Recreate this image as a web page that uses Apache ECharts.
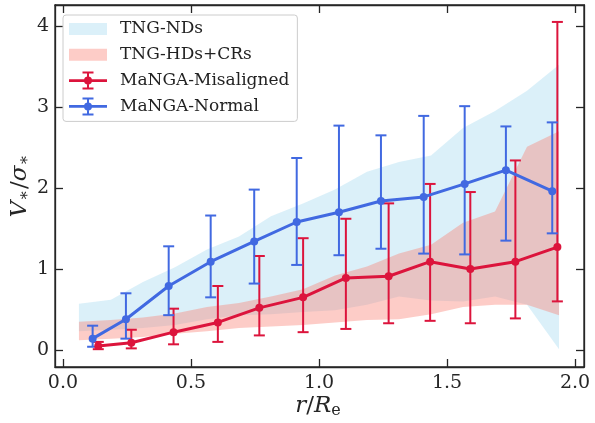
<!DOCTYPE html>
<html>
<head>
<meta charset="utf-8">
<script src="https://cdn.jsdelivr.net/npm/echarts@6/dist/echarts.min.js"></script>
<style>
html,body{margin:0;padding:0;background:#fff;}
#main{width:595px;height:423px;}
</style>
</head>
<body>
<div id="main"></div>
<script>
// ---- data ----
const xTicks = [0, 0.5, 1.0, 1.5, 2.0];
const yTicks = [0, 1, 2, 3, 4];

// TNG bands (x grid of the bands)
const bandX = [0.0625, 0.1875, 0.3125, 0.4375, 0.5625, 0.6875, 0.8125, 0.9375, 1.0625, 1.1875, 1.3125, 1.4375, 1.5625, 1.6875, 1.8125, 1.9375];
const ndsUpper = [0.57, 0.62, 0.84, 1.02, 1.24, 1.40, 1.65, 1.81, 1.98, 2.20, 2.32, 2.40, 2.74, 2.95, 3.20, 3.52];
const ndsLower = [0.23, 0.25, 0.27, 0.31, 0.38, 0.43, 0.44, 0.47, 0.49, 0.56, 0.66, 0.61, 0.60, 0.66, 0.56, 0.01];
const hdsUpper = [0.35, 0.37, 0.40, 0.45, 0.53, 0.58, 0.66, 0.75, 0.92, 1.03, 1.19, 1.30, 1.57, 1.71, 2.51, 2.70];
const hdsLower = [0.12, 0.14, 0.16, 0.20, 0.23, 0.27, 0.29, 0.31, 0.34, 0.37, 0.38, 0.44, 0.53, 0.56, 0.56, 0.43];

// MaNGA-Misaligned
const misX  = [0.138, 0.267, 0.432, 0.605, 0.767, 0.938, 1.105, 1.272, 1.434, 1.591, 1.767, 1.931];
const misY  = [0.05, 0.09, 0.22, 0.34, 0.52, 0.65, 0.89, 0.91, 1.09, 1.00, 1.09, 1.27];
const misLo = [0.01, 0.02, 0.07, 0.10, 0.18, 0.22, 0.26, 0.33, 0.36, 0.33, 0.39, 0.60];
const misHi = [0.10, 0.25, 0.51, 0.79, 1.16, 1.38, 1.62, 1.81, 2.05, 1.95, 2.34, 4.05];

// MaNGA-Normal
const norX  = [0.116, 0.246, 0.413, 0.577, 0.747, 0.913, 1.078, 1.242, 1.409, 1.569, 1.730, 1.911];
const norY  = [0.14, 0.38, 0.79, 1.09, 1.34, 1.58, 1.70, 1.84, 1.89, 2.05, 2.22, 1.96];
const norLo = [0.04, 0.14, 0.43, 0.65, 0.82, 1.05, 1.17, 1.25, 1.19, 1.18, 1.35, 1.44];
const norHi = [0.30, 0.70, 1.28, 1.66, 1.98, 2.37, 2.77, 2.65, 2.89, 3.01, 2.76, 2.81];

// ---- style ----
const FONT = '"DejaVu Serif", serif';
const AX = '#262626';
const BLUE = '#4169E1';
const RED = '#DC143C';
const NDS_FILL = 'rgba(135,206,235,0.3)';
const HDS_FILL = 'rgba(250,128,114,0.4)';

const chart = echarts.init(document.getElementById('main'), null, {renderer: 'canvas'});

function bandSeries(name, lower, upper, fill) {
  return {
    type: 'custom', name: name, z: 1, silent: true,
    data: bandX.map((x, i) => [x, lower[i], upper[i]]),
    encode: {x: 0, y: [1, 2]},
    renderItem: function (params, api) {
      if (params.dataIndex !== 0) return null;
      const pts = [];
      for (let i = 0; i < bandX.length; i++) pts.push(api.coord([bandX[i], upper[i]]));
      for (let i = bandX.length - 1; i >= 0; i--) pts.push(api.coord([bandX[i], lower[i]]));
      return {type: 'polygon', shape: {points: pts}, style: {fill: fill}};
    }
  };
}

function errSeries(name, xs, lo, hi, color) {
  return {
    type: 'custom', name: name, z: 2, silent: true,
    data: xs.map((x, i) => [x, lo[i], hi[i]]),
    encode: {x: 0, y: [1, 2]},
    renderItem: function (params, api) {
      const x = api.value(0);
      const p1 = api.coord([x, api.value(1)]);
      const p2 = api.coord([x, api.value(2)]);
      const cw = 5.5;
      const st = {stroke: color, lineWidth: 2};
      return {
        type: 'group',
        children: [
          {type: 'line', shape: {x1: p1[0], y1: p1[1], x2: p2[0], y2: p2[1]}, style: st},
          {type: 'line', shape: {x1: p1[0] - cw, y1: p1[1], x2: p1[0] + cw, y2: p1[1]}, style: st},
          {type: 'line', shape: {x1: p2[0] - cw, y1: p2[1], x2: p2[0] + cw, y2: p2[1]}, style: st}
        ]
      };
    }
  };
}

function lineSeries(name, xs, ys, color) {
  return {
    type: 'line', name: name, z: 3, silent: true,
    data: xs.map((x, i) => [x, ys[i]]),
    symbol: 'circle', symbolSize: 8, showSymbol: true,
    lineStyle: {color: color, width: 3},
    itemStyle: {color: color},
    animation: false
  };
}

// math-like axis labels built from text pieces
const mctx = document.createElement('canvas').getContext('2d');
function mathLabel(segs, cx, cy, rot) {
  let w = 0;
  const items = segs.map(s => {
    const font = (s.italic ? 'italic ' : '') + s.size + 'px "DejaVu Serif"';
    mctx.font = font;
    const tw = mctx.measureText(s.t).width;
    const it = {s: s, x: w, w: tw};
    w += tw + (s.gap || 0);
    return it;
  });
  const children = items.map(it => ({
    type: 'text',
    x: it.x - w / 2,
    y: (it.s.dy || 0),
    style: {
      text: it.s.t, fontFamily: FONT, fontSize: it.s.size,
      fontStyle: it.s.italic ? 'italic' : 'normal',
      fill: AX, textAlign: 'left', textVerticalAlign: 'middle', verticalAlign: 'middle'
    }
  }));
  return {type: 'group', x: cx, y: cy, rotation: rot || 0, children: children, silent: true};
}

const errIcon = 'path://M0,7.6L38,7.6L38,10.4L0,10.4Z M18,0L20,0L20,18L18,18Z M13.5,0L24.5,0L24.5,2L13.5,2Z M13.5,16L24.5,16L24.5,18L13.5,18Z M15,9A4,4 0 1 1 23,9A4,4 0 1 1 15,9Z';
const patchIcon = 'path://M0,0L0.01,0L0.01,0.01Z M0,3L38,3L38,15L0,15Z M38,18L37.99,18L37.99,17.99Z';

function axisCommon() {
  return {
    axisLine: {show: true, onZero: false, lineStyle: {color: AX, width: 1.3}},
    splitLine: {show: false}
  };
}

const option = {
  animation: false,
  backgroundColor: '#fff',
  grid: {left: 55, right: 11, top: 5, bottom: 56, show: true, borderColor: AX, borderWidth: 1.3, backgroundColor: 'transparent'},
  legend: {
    left: 63, top: 15, orient: 'vertical',
    itemWidth: 38, itemHeight: 18, itemGap: 7.8,
    padding: [5, 8, 6, 6],
    backgroundColor: 'rgba(255,255,255,0.8)',
    borderColor: '#cccccc', borderWidth: 1, borderRadius: 3,
    textStyle: {fontFamily: FONT, fontSize: 17, color: '#222', padding: [0, 0, 0, 8]},
    selectedMode: false,
    data: [
      {name: 'TNG-NDs', icon: patchIcon, itemStyle: {color: NDS_FILL}},
      {name: 'TNG-HDs+CRs', icon: patchIcon, itemStyle: {color: HDS_FILL}},
      {name: 'MaNGA-Misaligned', icon: errIcon, itemStyle: {color: RED}},
      {name: 'MaNGA-Normal', icon: errIcon, itemStyle: {color: BLUE}}
    ]
  },
  xAxis: [Object.assign(axisCommon(), {
    type: 'value', min: -0.031, max: 2.035, position: 'bottom',
    axisTick: {show: true, inside: true, length: 8, customValues: xTicks, lineStyle: {color: AX, width: 1.3}},
    axisLabel: {show: true, customValues: xTicks, margin: 7, fontFamily: FONT, fontSize: 19, color: AX,
      formatter: v => Number(v).toFixed(1)}
  }), Object.assign(axisCommon(), {
    type: 'value', min: -0.031, max: 2.035, position: 'top',
    axisTick: {show: true, inside: true, length: 8, customValues: xTicks, lineStyle: {color: AX, width: 1.3}},
    axisLabel: {show: false}
  })],
  yAxis: [Object.assign(axisCommon(), {
    type: 'value', min: -0.21, max: 4.259, position: 'left',
    axisTick: {show: true, inside: true, length: 8, customValues: yTicks, lineStyle: {color: AX, width: 1.3}},
    axisLabel: {show: true, customValues: yTicks, margin: 6, fontFamily: FONT, fontSize: 19, color: AX,
      formatter: v => String(Math.round(v))}
  }), Object.assign(axisCommon(), {
    type: 'value', min: -0.21, max: 4.259, position: 'right',
    axisTick: {show: true, inside: true, length: 8, customValues: yTicks, lineStyle: {color: AX, width: 1.3}},
    axisLabel: {show: false}
  })],
  graphic: [
    mathLabel([
      {t: 'r', italic: true, size: 23},
      {t: '/', italic: false, size: 23},
      {t: 'R', italic: true, size: 23},
      {t: 'e', italic: false, size: 16, dy: 5}
    ], 318, 406, 0),
    mathLabel([
      {t: 'V', italic: true, size: 23},
      {t: '\u2217', italic: false, size: 16, dy: 5, gap: 1},
      {t: '/', italic: false, size: 23},
      {t: '\u03C3', italic: true, size: 23},
      {t: '\u2217', italic: false, size: 16, dy: 5}
    ], 20, 186, Math.PI / 2)
  ],
  series: [
    bandSeries('TNG-NDs', ndsLower, ndsUpper, NDS_FILL),
    bandSeries('TNG-HDs+CRs', hdsLower, hdsUpper, HDS_FILL),
    errSeries('MaNGA-Misaligned', misX, misLo, misHi, RED),
    errSeries('MaNGA-Normal', norX, norLo, norHi, BLUE),
    lineSeries('MaNGA-Misaligned', misX, misY, RED),
    lineSeries('MaNGA-Normal', norX, norY, BLUE)
  ]
};
chart.setOption(option);
</script>
</body>
</html>
